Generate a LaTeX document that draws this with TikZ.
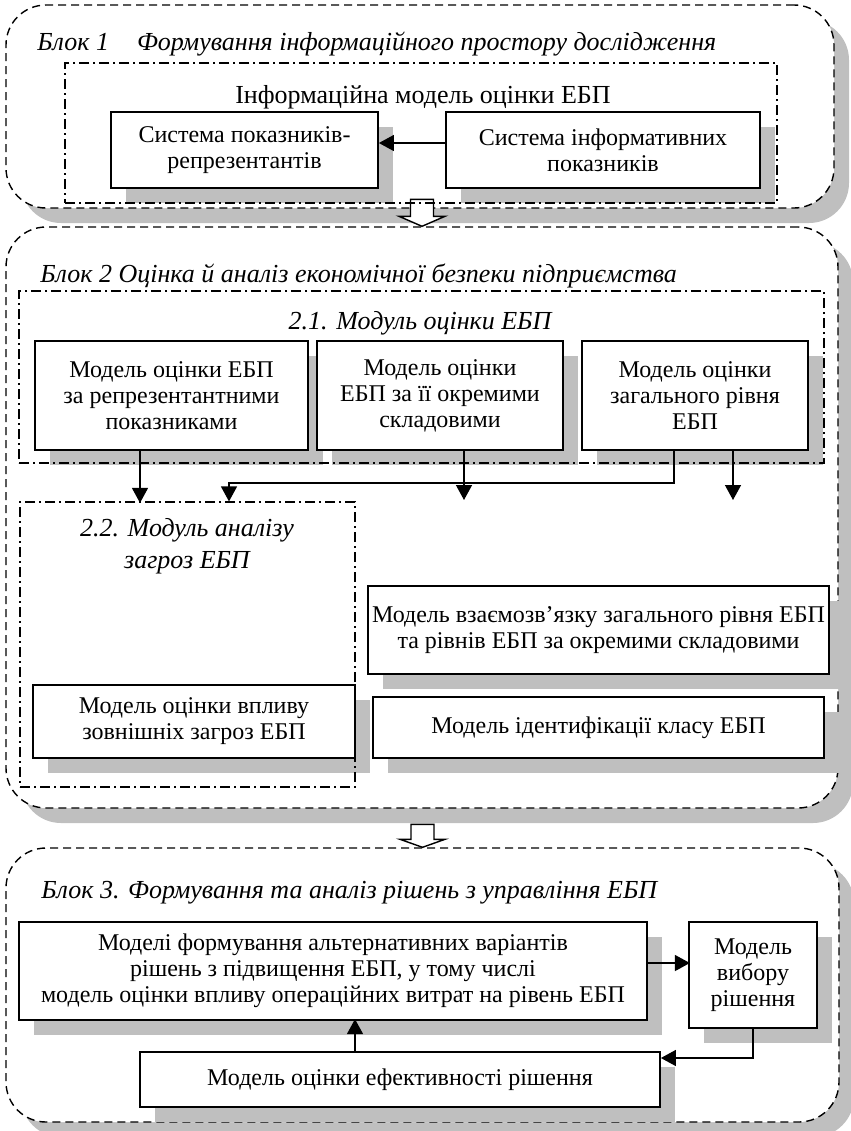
\documentclass[tikz,border=0pt]{standalone}
\usepackage{fontspec}
\setmainfont{Liberation Serif}
\usetikzlibrary{arrows.meta,shadows}

\newcommand{\boxfont}{\fontsize{12}{13}\selectfont}
\newcommand{\titlefont}{\fontsize{13}{14}\selectfont\itshape}

\tikzset{
  blockframe/.style={draw, dash pattern=on 4pt off 2.5pt, line width=0.7pt,
    rounded corners=20pt, fill=white, inner sep=0pt,
    drop shadow={shadow xshift=7.5pt, shadow yshift=-7.5pt, fill=black!25, opacity=1}},
  modframe/.style={draw, dash pattern=on 5pt off 2pt on 1pt off 2pt,
    line width=0.6pt, inner sep=0pt},
  modelbox/.style={draw, fill=white, line width=0.9pt, align=center,
    inner sep=2pt, font=\boxfont,
    drop shadow={shadow xshift=7.5pt, shadow yshift=-7.5pt, fill=black!25, opacity=1}},
  blocktitle/.style={anchor=base west, inner sep=0pt, font=\titlefont},
  arr/.style={-{Triangle[length=7.5pt,width=8pt]}, line width=0.7pt},
  hollowarr/.style={draw, fill=white, line width=0.7pt}
}

\begin{document}
\begin{tikzpicture}[x=0.5pt,y=-0.5pt]
    \useasboundingbox (0,0) rectangle (851,1131);

    % Blocks
    \node[blockframe, minimum width=414pt, minimum height=101.5pt] (blk1) at (420,106.5) {};
    \node[blockframe, minimum width=416pt, minimum height=290.5pt] (blk2) at (422,517.5) {};
    \node[blockframe, minimum width=416.5pt, minimum height=137pt] (blk3) at (422.5,985) {};

    % Arrows between blocks
    \draw[hollowarr] (blk2.north) -- ++(-23,-10) -- ++(11.5,0) -- ++(0,-17) -- ++(23,0) -- ++(0,17) -- ++(11.5,0) -- cycle;
    \draw[hollowarr] (blk3.north) -- ++(-22.5,-8) -- ++(11,0) -- ++(0,-15) -- ++(23,0) -- ++(0,15) -- ++(11,0) -- cycle;

    % Block 1
    \node[blocktitle] (title1) at (37,50) {Блок 1\hspace{14pt}Формування інформаційного простору дослідження};
    \node[modelbox, minimum width=133.5pt, minimum height=38pt] (sysrep) at (244.5,150) {Система показників-\\репрезентантів};
    \node[modelbox, minimum width=157pt, minimum height=38pt] (sysinf) at (603,150) {Система інформативних\\показників};
    \node[modframe, minimum width=356pt, minimum height=70pt] (frame1) at (421,133) {};
    \node[anchor=base, font=\fontsize{13}{14}\selectfont] (infomodel) at (423,103) {Інформаційна модель оцінки ЕБП};
    \draw[arr] ([yshift=3.5pt]sysinf.west) -- ([yshift=3.5pt]sysrep.east);

    % Block 2
    \node[blocktitle] (title2) at (40,282) {Блок 2 Оцінка й аналіз економічної безпеки підприємства};
    \node[modelbox, minimum width=136.5pt, minimum height=54.5pt] (m1) at (171.5,395.5) {Модель оцінки ЕБП\\за репрезентантними\\показниками};
    \node[modelbox, minimum width=123pt, minimum height=54.5pt] (m2) at (440,395.5) {Модель оцінки\\ЕБП за її окремими\\складовими};
    \node[modelbox, minimum width=113pt, minimum height=54.5pt] (m3) at (695,395.5) {Модель оцінки\\загального рівня\\ЕБП};
    \node[modelbox, minimum width=161pt, minimum height=36.5pt] (mthreat) at (194,721.5) {Модель оцінки впливу\\зовнішніх загроз ЕБП};
    \node[modelbox, minimum width=225.5pt, minimum height=44pt] (mlink) at (598.5,630) {Модель взаємозв’язку загального рівня ЕБП\\та рівнів ЕБП за окремими складовими};
    \node[modelbox, minimum width=225.5pt, minimum height=30.5pt] (mclass) at (598.5,727.5) {Модель ідентифікації класу ЕБП};
    \node[modframe, minimum width=402.5pt, minimum height=86pt] (frame21) at (421.5,377) {};
    \node[modframe, minimum width=167.5pt, minimum height=142.5pt] (frame22) at (187.5,644.5) {};
    \node[anchor=base, font=\titlefont] (mod21) at (420,329) {2.1. Модуль оцінки ЕБП};
    \node[align=center, font=\fontsize{13}{16}\selectfont\itshape] (mod22) at (187,546) {2.2. Модуль аналізу\\загроз ЕБП};

    % Links from module 2.1
    \coordinate (end2) at (464,500);
    \coordinate (end3) at (733,500);
    \draw[arr] ([xshift=-15.75pt]m1.south) -- ++(0,52);
    \draw[arr] ([xshift=12pt]m2.south) -- (end2);
    \draw[arr] ([xshift=19pt]m3.south) -- (end3);
    \draw[arr] ([xshift=-10.5pt]m3.south) -- ++(0,32) -| ([xshift=20.75pt]frame22.north);

    % Block 3
    \node[blocktitle] (title3) at (41,898) {Блок 3. Формування та аналіз рішень з управління ЕБП};
    \node[modelbox, minimum width=314pt, minimum height=49pt] (alt) at (333,971) {Моделі формування альтернативних варіантів\\рішень з підвищення ЕБП, у тому числі\\модель оцінки впливу операційних витрат на рівень ЕБП};
    \node[modelbox, minimum width=64pt, minimum height=53pt] (choice) at (753,975) {Модель\\вибору\\рішення};
    \node[modelbox, minimum width=260pt, minimum height=27.5pt] (eff) at (400,1079.5) {Модель оцінки ефективності рішення};
    \draw[arr] ([yshift=4pt]alt.east) -- ++(42,0);
    \draw[arr] (choice.south) |- ([yshift=10.75pt]eff.east);
    \draw[arr] ([xshift=-22.5pt]eff.north) -- ++(0,-32);
\end{tikzpicture}
\end{document}
